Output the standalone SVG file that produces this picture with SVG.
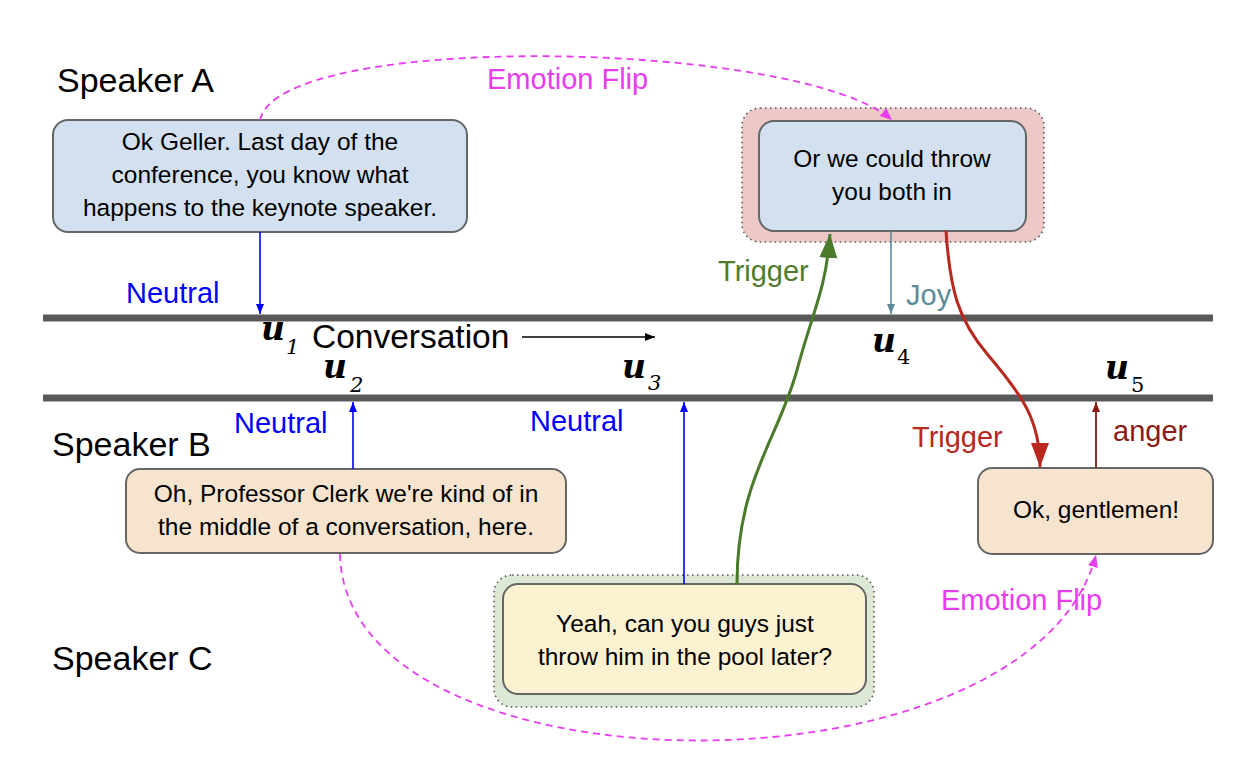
<svg xmlns="http://www.w3.org/2000/svg" width="1248" height="766" viewBox="0 0 1248 766">
<defs>
<style>
.spk{font-family:"Liberation Sans",Arial,sans-serif;font-size:34px;fill:#000}
.txt{font-family:"Liberation Sans",Arial,sans-serif;font-size:24.5px;fill:#000;text-anchor:middle}
.lbl{font-family:"Liberation Sans",Arial,sans-serif;font-size:29px}
.box{stroke:#666;stroke-width:2}
.outer{stroke:#555;stroke-width:1.6;stroke-dasharray:1.5 3.5}
.u{font-family:"DejaVu Serif",serif;font-style:italic;font-weight:bold;font-size:33px;fill:#000}
.sub{font-family:"DejaVu Serif",serif;font-style:italic;font-size:21px;fill:#000}
.subn{font-family:"DejaVu Serif",serif;font-size:21px;fill:#000}
.flip{fill:none;stroke:#e83cef;stroke-width:1.8;stroke-dasharray:7 5}
</style>
<marker id="mBlue" markerUnits="userSpaceOnUse" markerWidth="12" markerHeight="12" refX="10" refY="5" orient="auto"><path d="M0,1 L10,5 L0,9 Z" fill="#0000ff"/></marker>
<marker id="mJoy" markerUnits="userSpaceOnUse" markerWidth="12" markerHeight="12" refX="10" refY="5" orient="auto"><path d="M0,1 L10,5 L0,9 Z" fill="#5b8b99"/></marker>
<marker id="mAnger" markerUnits="userSpaceOnUse" markerWidth="12" markerHeight="12" refX="10" refY="5" orient="auto"><path d="M0,1 L10,5 L0,9 Z" fill="#8b1a14"/></marker>
<marker id="mBlack" markerUnits="userSpaceOnUse" markerWidth="12" markerHeight="12" refX="10" refY="5" orient="auto"><path d="M0,1 L10,5 L0,9 Z" fill="#000"/></marker>
<marker id="mFlip" markerUnits="userSpaceOnUse" markerWidth="14" markerHeight="14" refX="12" refY="6" orient="auto"><path d="M0,1 L12,6 L0,11 Z" fill="#e83cef"/></marker>
<marker id="mGreen" markerUnits="userSpaceOnUse" markerWidth="26" markerHeight="22" refX="24" refY="10" orient="auto"><path d="M0,1 L24,10 L0,19 Z" fill="#4a7a2a"/></marker>
<marker id="mRed" markerUnits="userSpaceOnUse" markerWidth="26" markerHeight="22" refX="24" refY="10" orient="auto"><path d="M0,1 L24,10 L0,19 Z" fill="#b8281e"/></marker>
</defs>
<rect width="1248" height="766" fill="#fff"/>

<g id="timeline">
<rect x="43" y="314.5" width="1170" height="7" fill="#595959"/>
<rect x="43" y="394.5" width="1170" height="7" fill="#595959"/>
</g>

<g id="speakers">
<text class="spk" x="57" y="92">Speaker A</text>
<text class="spk" x="52" y="456">Speaker B</text>
<text class="spk" x="52" y="670">Speaker C</text>
</g>

<g id="utterance-labels">
<text class="u" x="261" y="340">u</text><text class="sub" x="286" y="354">1</text>
<text class="u" x="323" y="378">u</text><text class="sub" x="350" y="392">2</text>
<text class="u" x="622" y="378">u</text><text class="sub" x="648" y="390">3</text>
<text class="u" x="872" y="352">u</text><text class="subn" x="897" y="364">4</text>
<text class="u" x="1105" y="379">u</text><text class="subn" x="1131" y="392">5</text>
<text x="312" y="348" style="font-family:'Liberation Sans',Arial,sans-serif;font-size:33.5px;fill:#000">Conversation</text>
</g>

<g id="node-u4-group">
<rect x="742" y="108" width="302" height="134" rx="18" fill="#ecc9c7" class="outer"/>
</g>
<g id="node-u3-group">
<rect x="494" y="575" width="380" height="132" rx="18" fill="#dce8d4" class="outer"/>
</g>

<g id="node-u1">
<rect x="53" y="120" width="414" height="112" rx="15" fill="#d3e0f0" class="box"/>
<text class="txt" x="260" y="150">Ok Geller. Last day of the</text>
<text class="txt" x="260" y="183">conference, you know what</text>
<text class="txt" x="260" y="216">happens to the keynote speaker.</text>
</g>

<g id="node-u4">
<rect x="759" y="121" width="267" height="110" rx="15" fill="#d3e0f0" class="box"/>
<text class="txt" x="892" y="167">Or we could throw</text>
<text class="txt" x="892" y="200">you both in</text>
</g>

<g id="node-u2">
<rect x="126" y="469" width="440" height="84" rx="14" fill="#f6e4cf" class="box"/>
<text class="txt" x="346" y="502">Oh, Professor Clerk we're kind of in</text>
<text class="txt" x="346" y="535">the middle of a conversation, here.</text>
</g>

<g id="node-u3">
<rect x="503" y="584" width="363" height="110" rx="15" fill="#fcf1d0" class="box"/>
<text class="txt" x="685" y="632">Yeah, can you guys just</text>
<text class="txt" x="685" y="665">throw him in the pool later?</text>
</g>

<g id="node-u5">
<rect x="978" y="468" width="235" height="86" rx="14" fill="#f6e4cf" class="box"/>
<text class="txt" x="1096" y="518">Ok, gentlemen!</text>
</g>

<g id="connectors">
<line x1="522" y1="337" x2="655" y2="337" stroke="#000" stroke-width="1.6" marker-end="url(#mBlack)"/>
<line x1="260" y1="232" x2="260" y2="314" stroke="#0000ff" stroke-width="1.6" marker-end="url(#mBlue)"/>
<line x1="353" y1="469" x2="353" y2="402" stroke="#0000ff" stroke-width="1.6" marker-end="url(#mBlue)"/>
<line x1="684" y1="584" x2="684" y2="402" stroke="#0000ff" stroke-width="1.6" marker-end="url(#mBlue)"/>
<line x1="891" y1="231" x2="891" y2="314" stroke="#5b8b99" stroke-width="1.6" marker-end="url(#mJoy)"/>
<line x1="1096" y1="468" x2="1096" y2="402" stroke="#8b1a14" stroke-width="1.8" marker-end="url(#mAnger)"/>
<path d="M737,584 C737,480 778,440 797,370 C813,310 826,290 830,234" fill="none" stroke="#4a7a2a" stroke-width="3" marker-end="url(#mGreen)"/>
<path d="M946,231 C950,290 958,320 988,355 C1022,395 1040,420 1040,467" fill="none" stroke="#b8281e" stroke-width="3" marker-end="url(#mRed)"/>
<path class="flip" d="M260,120 C280,30 800,40 892,120" marker-end="url(#mFlip)"/>
<path class="flip" d="M340,554 C345,800 1030,805 1096,555" marker-end="url(#mFlip)"/>
</g>

<g id="labels">
<text class="lbl" x="487" y="89" fill="#e83cef">Emotion Flip</text>
<text class="lbl" x="126" y="303" fill="#0000ff">Neutral</text>
<text class="lbl" x="718" y="281" fill="#4e7c2b">Trigger</text>
<text class="lbl" x="906" y="305" fill="#5b8b99">Joy</text>
<text class="lbl" x="234" y="433" fill="#0000ff">Neutral</text>
<text class="lbl" x="530" y="431" fill="#0000ff">Neutral</text>
<text class="lbl" x="912" y="447" fill="#b8281e">Trigger</text>
<text class="lbl" x="1113" y="441" fill="#8b1a14">anger</text>
<text class="lbl" x="941" y="610" fill="#e83cef">Emotion Flip</text>
</g>
</svg>
